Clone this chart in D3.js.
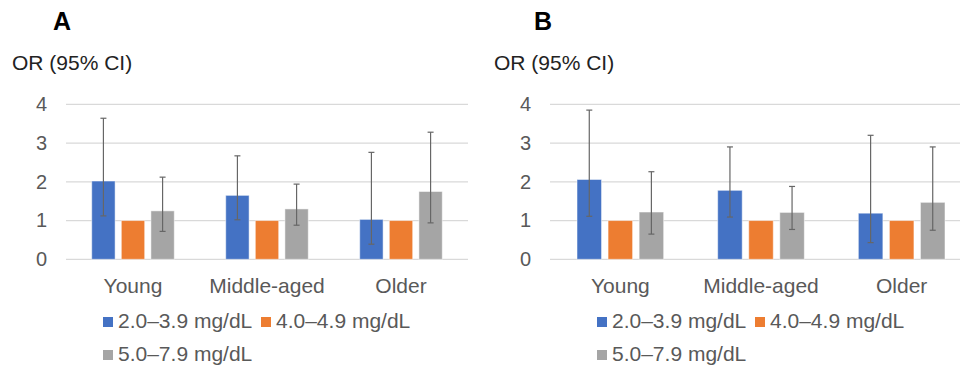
<!DOCTYPE html>
<html>
<head>
<meta charset="utf-8">
<script src="https://cdn.jsdelivr.net/npm/d3@7"></script>
<style>
  body { margin: 0; background: #fff; }
  svg { font-family: "Liberation Sans", Arial, sans-serif; }
</style>
</head>
<body>
<div id="vis"></div>
<script>
// data
const CATEGORIES = ['Young', 'Middle-aged', 'Older'];
const SERIES = ['2.0\u20133.9 mg/dL', '4.0\u20134.9 mg/dL', '5.0\u20137.9 mg/dL'];
const COLORS = ['#4472C4', '#ED7D31', '#A5A5A5'];
const Y_TICKS = [0, 1, 2, 3, 4];

// panel A: rows = series, cols = categories
const A_OR = [[2.02, 1.65, 1.03], [1, 1, 1], [1.25, 1.30, 1.75]];
const A_LOW = [[1.12, 1.02, 0.39], [null, null, null], [0.72, 0.88, 0.94]];
const A_HIGH = [[3.64, 2.67, 2.76], [null, null, null], [2.12, 1.94, 3.28]];

// panel B
const B_OR = [[2.06, 1.78, 1.19], [1, 1, 1], [1.22, 1.21, 1.47]];
const B_LOW = [[1.11, 1.09, 0.43], [null, null, null], [0.65, 0.77, 0.75]];
const B_HIGH = [[3.85, 2.90, 3.20], [null, null, null], [2.26, 1.88, 2.90]];

const FRAME_WIDTH = 960;
const FRAME_HEIGHT = 366;
const TEXT_GREY = '#595959';

const FRAME = d3.select('#vis')
                .append('svg')
                    .attr('width', FRAME_WIDTH)
                    .attr('height', FRAME_HEIGHT);

const PANELS = [
    {label: 'A', or: A_OR, low: A_LOW, high: A_HIGH,
     x0: 66, x1: 468, labelX: 53, titleX: 12, legendX: 103, legend2X: 261},
    {label: 'B', or: B_OR, low: B_LOW, high: B_HIGH,
     x0: 550, x1: 972, labelX: 534, titleX: 494, legendX: 597, legend2X: 755}
];

const Y_SCALE = d3.scaleLinear()
    .domain([0, 4])
    .range([259.3, 104.3]);

PANELS.forEach((p) => {
    const g = FRAME.append('g');

    // panel letter + y title
    g.append('text')
        .attr('x', p.labelX)
        .attr('y', 30)
        .attr('font-size', '25px')
        .attr('font-weight', 'bold')
        .text(p.label);

    g.append('text')
        .attr('x', p.titleX)
        .attr('y', 70)
        .attr('font-size', '21px')
        .attr('fill', '#222')
        .text('OR (95% CI)');

    const X_SCALE = d3.scaleBand()
        .domain(CATEGORIES)
        .range([p.x0, p.x1])
        .paddingInner(0.384)
        .paddingOuter(0.192);

    const X_INNER = d3.scaleBand()
        .domain(d3.range(SERIES.length))
        .range([0, X_SCALE.bandwidth()])
        .paddingInner(0.21);

    // gridlines
    g.append('g')
        .selectAll('line')
        .data(Y_TICKS)
        .enter()
        .append('line')
            .attr('x1', p.x0)
            .attr('x2', p.x1)
            .attr('y1', d => Y_SCALE(d))
            .attr('y2', d => Y_SCALE(d))
            .attr('stroke', '#D9D9D9')
            .attr('stroke-width', 1.3);

    // y axis labels
    const yAxis = g.append('g')
        .attr('transform', 'translate(' + (p.x0 - 19) + ',0)')
        .call(d3.axisLeft(Y_SCALE).tickValues(Y_TICKS).tickFormat(d3.format('d'))
            .tickSize(0).tickPadding(0));
    yAxis.select('.domain').remove();
    yAxis.selectAll('text')
        .attr('font-size', '20px')
        .attr('font-family', '"Liberation Sans", Arial, sans-serif')
        .attr('fill', TEXT_GREY);

    // x axis labels
    const xAxis = g.append('g')
        .attr('transform', 'translate(0,' + 278 + ')')
        .call(d3.axisBottom(X_SCALE).tickSize(0).tickPadding(0));
    xAxis.select('.domain').remove();
    xAxis.selectAll('text')
        .attr('font-size', '21px')
        .attr('font-family', '"Liberation Sans", Arial, sans-serif')
        .attr('fill', TEXT_GREY);

    // bars
    const rows = [];
    SERIES.forEach((s, i) => {
        CATEGORIES.forEach((c, j) => {
            rows.push({s: i, c: c, v: p.or[i][j], lo: p.low[i][j], hi: p.high[i][j]});
        });
    });

    g.append('g')
        .selectAll('rect')
        .data(rows)
        .enter()
        .append('rect')
            .attr('x', d => X_SCALE(d.c) + X_INNER(d.s))
            .attr('y', d => Y_SCALE(d.v))
            .attr('width', X_INNER.bandwidth())
            .attr('height', d => Y_SCALE(0) - Y_SCALE(d.v))
            .attr('fill', d => COLORS[d.s])
            .attr('stroke', '#fff')
            .attr('stroke-opacity', 0.5)
            .attr('stroke-width', 1);

    // error bars
    const errs = rows.filter(d => d.lo != null);
    const eg = g.append('g')
        .attr('stroke', '#666')
        .attr('stroke-width', 1.2);

    eg.selectAll('.err')
        .data(errs)
        .enter()
        .append('line')
            .attr('x1', d => X_SCALE(d.c) + X_INNER(d.s) + X_INNER.bandwidth() / 2)
            .attr('x2', d => X_SCALE(d.c) + X_INNER(d.s) + X_INNER.bandwidth() / 2)
            .attr('y1', d => Y_SCALE(d.lo))
            .attr('y2', d => Y_SCALE(d.hi));

    ['lo', 'hi'].forEach((k) => {
        eg.selectAll('.cap-' + k)
            .data(errs)
            .enter()
            .append('line')
                .attr('x1', d => X_SCALE(d.c) + X_INNER(d.s) + X_INNER.bandwidth() / 2 - 3)
                .attr('x2', d => X_SCALE(d.c) + X_INNER(d.s) + X_INNER.bandwidth() / 2 + 3)
                .attr('y1', d => Y_SCALE(d[k]))
                .attr('y2', d => Y_SCALE(d[k]));
    });

    // legend
    const legendPos = [[p.legendX, 328], [p.legend2X, 328], [p.legendX, 361]];
    SERIES.forEach((s, i) => {
        const lg = g.append('g')
            .attr('transform', 'translate(' + legendPos[i][0] + ',' + legendPos[i][1] + ')');
        lg.append('rect')
            .attr('x', 0)
            .attr('y', -11)
            .attr('width', 10)
            .attr('height', 10)
            .attr('fill', COLORS[i]);
        lg.append('text')
            .attr('x', 15)
            .attr('y', 0)
            .attr('font-size', '21px')
            .attr('fill', TEXT_GREY)
            .text(s);
    });
});
</script>
</body>
</html>
